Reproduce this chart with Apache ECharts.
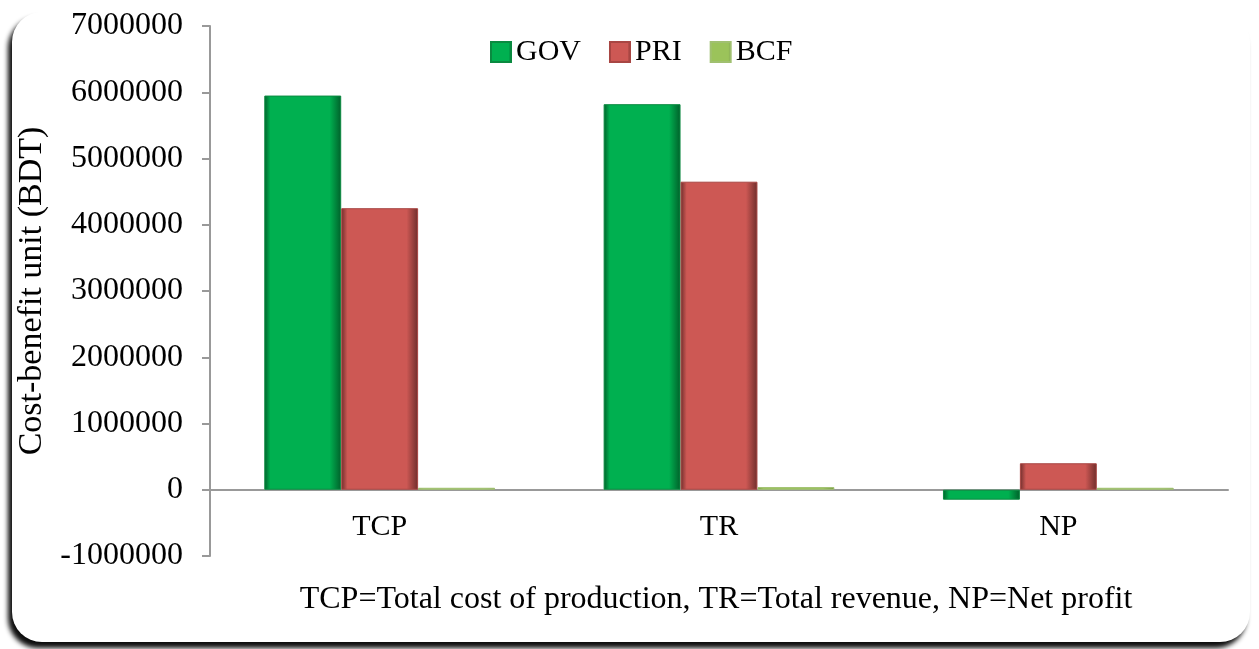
<!DOCTYPE html>
<html><head><meta charset="utf-8">
<script src="https://cdn.jsdelivr.net/npm/echarts@6/dist/echarts.min.js"></script>
<style>
html,body{margin:0;padding:0;background:#fff;width:1259px;height:649px;overflow:hidden;}
#card{position:absolute;left:12px;top:12px;width:1238px;height:630px;border-radius:30px;background:#fff;box-shadow:-4px 6px 5px rgba(0,0,0,0.95);}
#c{position:absolute;left:0;top:0;width:1259px;height:649px;}
</style></head>
<body><div id="card"></div><div id="c"></div>
<script>
const categories = ['TCP','TR','NP'];
const gov = [5950000, 5820000, -150000];
const pri = [4250000, 4650000, 400000];
const bcf = [30000, 40000, 30000];
const yTicks = {min:-1000000, max:7000000, interval:1000000};
const font = 'Liberation Serif, Times New Roman, serif';

function grad(light, dark){
  return new echarts.graphic.LinearGradient(0,0,1,0,[
    {offset:0, color:dark},{offset:0.08, color:light},{offset:0.85, color:light},{offset:1, color:dark}
  ]);
}
const chart = echarts.init(document.getElementById('c'), null, {renderer:'canvas'});
chart.setOption({
  backgroundColor:'transparent',
  animation:false,
  grid:{left:210,right:31,top:26,bottom:93,containLabel:false,outerBoundsMode:'none'},
  legend:{top:32,left:485,itemWidth:20,itemHeight:20,itemGap:28,
    textStyle:{fontFamily:font,fontSize:30,color:'#000'},
    data:[{name:'GOV',icon:'rect'},{name:'PRI',icon:'rect'},{name:'BCF',icon:'rect'}]},
  title:{text:'TCP=Total cost of production, TR=Total revenue, NP=Net profit',left:711,textAlign:'center',top:579,
    textStyle:{fontFamily:font,fontSize:32,fontWeight:'normal',color:'#000'}},
  xAxis:{type:'category',data:categories,
    axisLine:{onZero:true,lineStyle:{color:'#999',width:2}},axisTick:{show:false},
    axisLabel:{fontFamily:font,fontSize:30,color:'#000',margin:-44}},
  yAxis:{type:'value',min:yTicks.min,max:yTicks.max,interval:yTicks.interval,
    name:'Cost-benefit unit (BDT)',nameLocation:'middle',nameGap:156,nameRotate:90,
    nameTextStyle:{fontFamily:font,fontSize:34,color:'#000'},
    axisLine:{show:true,lineStyle:{color:'#999',width:2}},
    axisTick:{show:true,length:8,lineStyle:{color:'#999',width:2}},
    splitLine:{show:false},
    axisLabel:{fontFamily:font,fontSize:32,color:'#000',margin:27,formatter:v=>String(v)}},
  series:[
    {name:'GOV',type:'bar',data:gov,barGap:'0%',barCategoryGap:'32%',
      itemStyle:{color:grad('#00b050','#00602a'),borderColor:'#0a8a40',borderWidth:1}},
    {name:'PRI',type:'bar',data:pri,
      itemStyle:{color:grad('#cd5854','#6e2d2b'),borderColor:'#a84643',borderWidth:1}},
    {name:'BCF',type:'bar',data:bcf,
      itemStyle:{color:grad('#9bc35a','#6c8f3a'),borderColor:'#a0c070',borderWidth:1}}
  ]
});
</script></body></html>
